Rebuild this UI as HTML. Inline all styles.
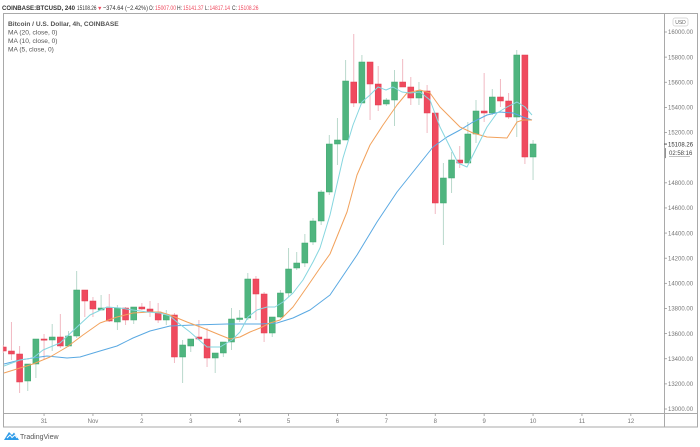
<!DOCTYPE html>
<html><head><meta charset="utf-8"><style>
html,body{margin:0;padding:0;background:#fff;}
svg{display:block;font-family:"Liberation Sans",sans-serif;}
</style></head><body>
<svg id="c" width="700" height="447" viewBox="0 0 700 447" xmlns="http://www.w3.org/2000/svg">
<rect width="700" height="447" fill="#fff"/>
<!-- header -->
<g font-size="6.6" fill="#333">
<text x="2" y="10" font-weight="bold" textLength="73" lengthAdjust="spacingAndGlyphs">COINBASE:BTCUSD, 240</text>
<text x="77" y="10" textLength="19.5" lengthAdjust="spacingAndGlyphs">15108.26</text>
<text x="97" y="10" fill="#ef4a5e" font-size="5.5">▼</text>
<text x="103" y="10" textLength="45" lengthAdjust="spacingAndGlyphs">−374.64 (−2.42%)</text>
<text x="149" y="10" textLength="5" lengthAdjust="spacingAndGlyphs">O:</text>
<text x="155" y="10" fill="#ef4a5e" textLength="21" lengthAdjust="spacingAndGlyphs">15007.00</text>
<text x="177" y="10" textLength="5" lengthAdjust="spacingAndGlyphs">H:</text>
<text x="183" y="10" fill="#ef4a5e" textLength="20.5" lengthAdjust="spacingAndGlyphs">15141.37</text>
<text x="205" y="10" textLength="4" lengthAdjust="spacingAndGlyphs">L:</text>
<text x="209.5" y="10" fill="#ef4a5e" textLength="20.5" lengthAdjust="spacingAndGlyphs">14817.14</text>
<text x="232" y="10" textLength="5" lengthAdjust="spacingAndGlyphs">C:</text>
<text x="238" y="10" fill="#ef4a5e" textLength="20.5" lengthAdjust="spacingAndGlyphs">15108.26</text>
</g>
<!-- frame -->
<g stroke="#a9a9a9" stroke-width="1" fill="none">
<rect x="3.5" y="13.5" width="694" height="413.5"/>
<line x1="3.5" y1="413.5" x2="697.5" y2="413.5"/>
<line x1="664.5" y1="13.5" x2="664.5" y2="427"/>
</g>
<!-- legend -->
<g font-size="6.6" fill="#555">
<text x="8" y="26" font-weight="bold">Bitcoin / U.S. Dollar, 4h, COINBASE</text>
<text x="8" y="34.5">MA (20, close, 0)</text>
<text x="8" y="43">MA (10, close, 0)</text>
<text x="8" y="51.5">MA (5, close, 0)</text>
</g>
<!-- price axis -->
<rect x="673" y="18" width="15" height="8" rx="2" fill="#fff" stroke="#ccc" stroke-width="0.7"/>
<text x="680.5" y="24" font-size="5" fill="#666" text-anchor="middle">USD</text>
<g id="pax" font-size="6" fill="#777"></g>
<g id="candles"></g>
<g id="mas" fill="none" stroke-width="1"></g>
<!-- time axis -->
<g id="tax" font-size="6" fill="#777" text-anchor="middle"></g>
<!-- logo -->
<g>
<path d="M4 440 L9 432 L12 435 L14 432.5 L19 440 Z" fill="#2e9be8"/>
<path d="M7 438 L10 435 L12 437.5 L15 435 L17 438" stroke="#fff" stroke-width="1" fill="none"/>
<text x="20" y="439" font-size="7" fill="#555">TradingView</text>
</g>
</svg>
<script>
var NS="http://www.w3.org/2000/svg";
function el(t,a,p,txt){var e=document.createElementNS(NS,t);for(var k in a)e.setAttribute(k,a[k]);if(txt!==undefined)e.textContent=txt;p.appendChild(e);return e;}
function py(p){return 32+(16000-p)*0.12567;}
var pax=document.getElementById('pax');
for(var p=16000;p>=13000;p-=200){
 if(p===15000) continue;
 var y=py(p);
 el('line',{x1:664,y1:y,x2:667,y2:y,stroke:'#999','stroke-width':0.8},pax);
 el('text',{x:668,y:y+2.2},pax,p.toFixed(2));
}
var ly=py(15108.26);
el('line',{x1:664,y1:ly,x2:667,y2:ly,stroke:'#555','stroke-width':1},pax);
el('text',{x:668,y:ly+2.2,fill:'#333'},pax,'15108.26');
el('line',{x1:665.5,y1:ly+4,x2:665.5,y2:ly+14,stroke:'#777','stroke-width':0.8},pax);
el('text',{x:669,y:ly+11,fill:'#444'},pax,'02:58:16');
el('line',{x1:669,y1:ly+12.5,x2:690,y2:ly+12.5,stroke:'#999','stroke-width':0.6},pax);

var C=[
[0,347,351,345,353,'r'],[1,351,354,322,360,'r'],[2,354,382,346,393,'r'],[3,364,381,364,391,'g'],
[4,339,364,339,378,'g'],[5,339,340,334,360,'r'],[6,337,340,324,351,'g'],[7,337,346,314,348,'r'],
[8,336,346,331,347,'g'],[9,290,336,271,338,'g'],[10,290,301,290,317,'r'],[11,301,309,297,317,'r'],
[12,308,310,295,310,'g'],[13,308,321,294,322,'r'],[14,308,322,305,330,'g'],[15,308,320,307,325,'r'],
[16,307,320,307,324,'g'],[17,307,309,303,310,'r'],[18,309,312,301,317,'r'],[19,312,320,303,323,'r'],
[20,315,320,310,325,'g'],[21,315,357,313,363,'r'],[22,345,357,340,383,'g'],[23,339,346,339,352,'g'],
[24,337,339,320,340,'r'],[25,339,358,328,367,'r'],[26,353,358,353,373,'g'],[27,342,353,342,357,'g'],
[28,319,342,308,350,'g'],[29,318,319.5,310,322,'g'],[30,279,318,273,320,'g'],[31,279,294,276,320,'r'],
[32,294,333,292,342,'r'],[33,317,333,317,337,'g'],[34,293,317,290,318,'g'],[35,269,293,248,297,'g'],
[36,263,268,252,270,'g'],[37,243,263,234,267,'g'],[38,221,242,218,245,'g'],[39,192,221,190,225,'g'],
[40,144,192,135,195,'g'],[41,140,144,118,165,'g'],[42,81,140,60,140,'g'],[43,82,103,34,107,'r'],
[44,62,103,55,103,'g'],[45,62,84,62,120,'r'],[46,84,105,66,111,'r'],[47,100,104,98,106,'g'],
[48,82,100,70,126,'g'],[49,82,87,59,87,'r'],[50,87,98,77,105,'r'],[51,91,98,82,105,'g'],
[52,91,113,85,133,'r'],[53,113,203,113,214,'r'],[54,178,203,163,245,'g'],[55,160,178,152,193,'g'],
[56,160,163,146,168,'r'],[57,134,163,122,163,'g'],[58,111,134,100,143,'g'],[59,111,113,73,122,'r'],
[60,97,113,89,115,'g'],[61,97,101,79,107,'r'],[62,101,117,93,119,'r'],[63,55,117,50,137,'g'],
[64,55,157,55,164,'r'],[65,144,157,140,180,'g']
];
var cg=document.getElementById('candles');
C.forEach(function(c){
 var x=3.3+8.15*c[0];
 var g=c[5]==='g';
 el('line',{x1:x,y1:c[3],x2:x,y2:c[4],stroke:g?'#b9d9cc':'#f1b9c2','stroke-width':1},cg);
 var h=Math.max(c[2]-c[1],1.2);
 var bx=x-3, bw=6;
 if(bx<3.5){bw-=3.5-bx;bx=3.5;}
 el('rect',{x:bx,y:c[1],width:bw,height:h,fill:g?'#4fb57f':'#ef4a5e',stroke:g?'#3fa56f':'#e03a4e','stroke-width':0.5},cg);
});
var mg=document.getElementById('mas');
function pl(pts,col){el('polyline',{points:pts.map(function(p){return p.join(',')}).join(' '),stroke:col,'stroke-linejoin':'round'},mg);}
pl([[4,364],[20,360],[33,358],[47,356],[57,357],[67,358],[80,357],[90,354],[100,351],[117,346],[133,338],[150,331],[170,326],[193,325],[227,324],[260,324],[277,323],[293,318],[310,310],[330,295],[357,255],[377,222],[397,192],[413,172],[433,147],[447,137],[460,130],[473,122],[487,115],[500,112],[513,113],[523,117],[532,120]],'#5aa9e2');
pl([[4,373],[33,364],[50,357],[67,347],[83,335],[100,323],[117,317],[133,313],[150,312],[160,312],[170,315],[187,322],[203,328],[220,335],[230,339],[240,337],[250,332],[260,328],[270,323],[280,320],[293,307],[307,287],[320,268],[330,254],[347,212],[357,175],[370,145],[383,125],[397,105],[407,93],[420,90],[430,93],[440,107],[450,117],[460,127],[473,133],[487,137],[507,138],[517,122],[523,120],[532,120]],'#f2a25c');
pl([[4,366],[20,360],[33,358],[43,350],[60,343],[77,327],[90,315],[107,307],[120,308],[133,310],[147,312],[160,313],[170,316],[177,322],[190,332],[207,347],[220,347],[232,340],[240,332],[248,317],[257,310],[267,307],[275,307],[283,302],[293,293],[303,280],[313,262],[320,248],[330,215],[343,158],[353,125],[362,102],[370,95],[378,87],[386,90],[393,87],[402,92],[410,93],[420,92],[430,100],[440,127],[450,147],[458,163],[467,167],[477,147],[487,127],[497,113],[507,107],[517,102],[525,107],[532,115]],'#86d6df');
var tax=document.getElementById('tax');
var labs=[[5,'31'],[11,'Nov'],[17,'2'],[23,'3'],[29,'4'],[35,'5'],[41,'6'],[47,'7'],[53,'8'],[59,'9'],[65,'10'],[71,'11'],[77,'12']];
labs.forEach(function(l){var x=3.3+8.15*l[0];
 el('line',{x1:x,y1:413.5,x2:x,y2:416,stroke:'#999','stroke-width':0.8},tax);
 el('text',{x:x,y:423},tax,l[1]);});
</script>
</body></html>
